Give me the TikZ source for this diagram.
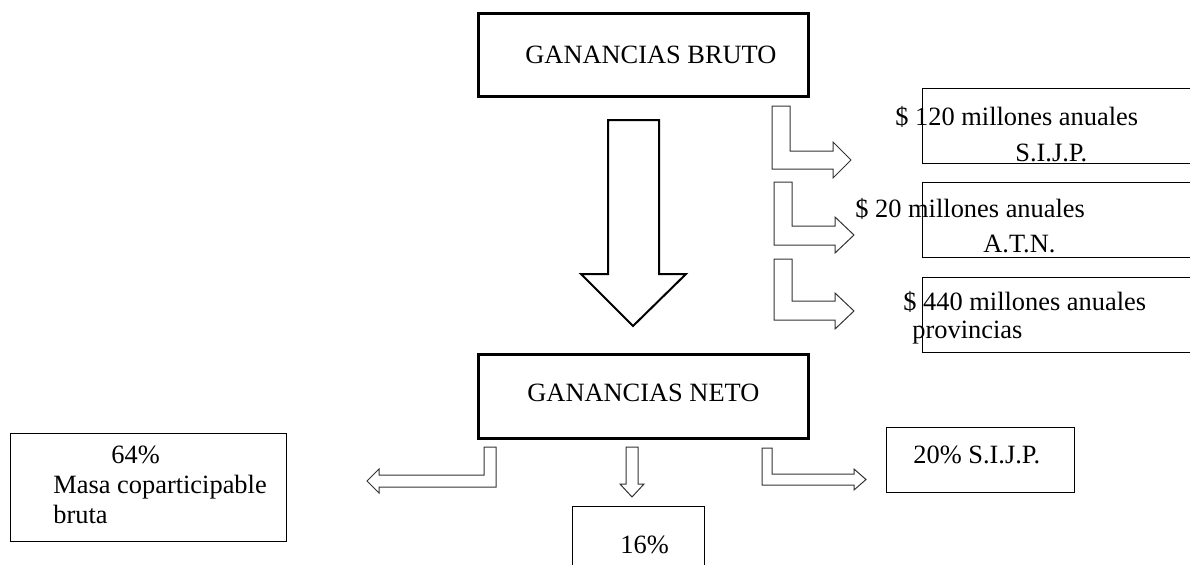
\documentclass[tikz,border=0pt]{standalone}
\usepackage{fontspec}
\setmainfont{Liberation Serif}
\begin{document}
\begin{tikzpicture}[x=0.5pt,y=-0.5pt,
  thickbox/.style={line width=1.5pt,line join=miter},
  thinbox/.style={line width=0.5pt},
  bigarrow/.style={line width=1pt,line join=miter},
  smallarrow/.style={line width=0.5pt,draw=black!80},
  lbl/.style={inner sep=0pt,anchor=base west,font=\fontsize{13.2}{16}\selectfont}]
\useasboundingbox (0,0) rectangle (1190,564);
% top box
\draw[thickbox] (478,13) rectangle (808,96);
\node[lbl] (bruto) at (525,63) {GANANCIAS BRUTO};
% big down arrow
\draw[bigarrow] (608,120) -- (659,120) -- (659,274) -- (686,274) -- (633,326) -- (581,274) -- (608,274) -- cycle;
% right bent arrows
\draw[smallarrow] (772,106) -- (790,106) -- (790,151) -- (833,151) -- (833,142) -- (851,160) -- (833,178) -- (833,169) -- (772,169) -- cycle;
\draw[smallarrow] (774,182) -- (792,182) -- (792,226) -- (835,226) -- (835,217) -- (854,235) -- (835,253) -- (835,245) -- (774,245) -- cycle;
\draw[smallarrow] (774,259) -- (792,259) -- (792,301) -- (835,301) -- (835,293) -- (854,311) -- (835,329) -- (835,320) -- (774,320) -- cycle;
% right boxes (open at the page edge)
\draw[thinbox] (1191,88) -- (922,88) -- (922,163) -- (1191,163);
\draw[thinbox] (1191,182) -- (922,182) -- (922,257) -- (1191,257);
\draw[thinbox] (1191,277) -- (922,277) -- (922,352) -- (1191,352);
\node[lbl] (t1a) at (895,125) {\$ 120 millones anuales};
\node[lbl] (t1b) at (1015,161) {S.I.J.P.};
\node[lbl] (t2a) at (855,217) {\$ 20 millones anuales};
\node[lbl] (t2b) at (983,252) {A.T.N.};
\node[lbl] (t3a) at (903,310) {\$ 440 millones anuales};
\node[lbl] (t3b) at (912,338) {provincias};
% neto box
\draw[thickbox] (478,354) rectangle (808,438);
\node[lbl] (neto) at (527,401) {GANANCIAS NETO};
% bottom arrows
\draw[smallarrow] (484,447) -- (496,447) -- (496,487) -- (379,487) -- (379,493) -- (367,481) -- (379,469) -- (379,475) -- (484,475) -- cycle;
\draw[smallarrow] (626,447) -- (638,447) -- (638,484) -- (644,484) -- (632,497) -- (620,484) -- (626,484) -- cycle;
\draw[smallarrow] (762,448) -- (772,448) -- (772,474) -- (854,474) -- (854,469) -- (866,479.5) -- (854,490) -- (854,485) -- (762,485) -- cycle;
% bottom boxes
\draw[thinbox] (10,433) rectangle (286,541);
\node[lbl] (p64) at (111,463) {64\%};
\node[lbl] (masa) at (53,493) {Masa coparticipable};
\node[lbl] (bruta) at (53,523) {bruta};
\draw[thinbox] (572,565) -- (572,506) -- (704,506) -- (704,565);
\node[lbl] (p16) at (620,553) {16\%};
\draw[thinbox] (886,427) rectangle (1074,492);
\node[lbl] (p20) at (913,463) {20\% S.I.J.P.};
\end{tikzpicture}
\end{document}
